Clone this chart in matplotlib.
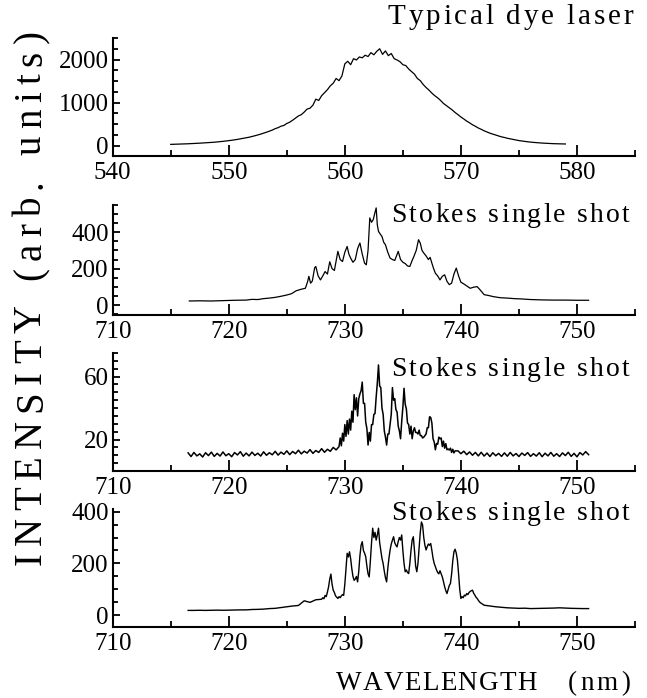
import numpy as np
import matplotlib
matplotlib.use('Agg')
import matplotlib.pyplot as plt
from matplotlib.font_manager import FontProperties, findfont, get_font
from matplotlib.ticker import MultipleLocator, FixedLocator

# ---------------- data ----------------
# Panel 1: typical dye laser, 545 -> 579 nm, step 0.25 nm
dye_start, dye_stop = 545.0, 579.0
dye_vals = [
    30, 32, 33, 35, 38, 40, 44, 47, 52, 55, 58, 62, 66, 70, 75, 80,
    86, 92, 100, 108, 117, 125, 135, 146, 158, 170, 184, 196, 212, 230, 248, 268,
    290, 312, 338, 362, 395, 418, 452, 470, 515, 545, 590, 640, 690, 720, 780, 850,
    870, 940, 1080, 1050, 1160, 1230, 1300, 1390, 1450, 1560, 1510, 1620, 1900, 1960, 1880, 2020,
    1990, 2060, 2040, 2100, 2070, 2160, 2110, 2190, 2250, 2120, 2200, 2090, 2140, 2020, 1990, 1950,
    1880, 1860, 1780, 1720, 1660, 1560, 1510, 1420, 1350, 1290, 1220, 1160, 1110, 1050, 980, 930,
    880, 830, 770, 720, 665, 620, 570, 530, 485, 450, 410, 380, 345, 318, 290, 268,
    245, 225, 205, 190, 172, 158, 142, 130, 118, 108, 98, 90, 82, 76, 70, 65,
    60, 56, 52, 49, 46, 44, 42, 40, 39,
]

# Panel 2: Stokes single shot (a)
s1_nm = [716.6, 717.5, 718.5, 719.5, 720.5, 721.5, 722.0, 722.5, 723.0, 723.5, 724.0, 724.5,
         725.0, 725.4, 725.8, 726.2, 726.6, 726.8, 726.9, 727.05, 727.2, 727.4, 727.5, 727.7,
         727.9, 728.1, 728.3, 728.5, 728.7, 728.9, 729.1, 729.4, 729.6, 729.8, 730.0, 730.2,
         730.35, 730.5, 730.7, 730.9, 731.1, 731.3, 731.5, 731.7, 731.85, 732.0, 732.15, 732.3,
         732.45, 732.6, 732.7, 732.8, 732.9, 733.05, 733.2, 733.35, 733.5, 733.7, 733.9, 734.1,
         734.3, 734.45, 734.6, 734.8, 735.0, 735.2, 735.4, 735.6, 735.8, 735.95, 736.15, 736.35,
         736.5, 736.65, 736.8, 737.0, 737.2, 737.35, 737.5, 737.65, 737.8, 738.0, 738.2, 738.4,
         738.6, 738.8, 739.0, 739.2, 739.4, 739.6, 739.8, 740.0, 740.2, 740.5, 740.8, 741.1,
         741.4, 741.7, 742.0, 742.4, 742.8, 743.4, 744.0, 744.6, 745.3, 746.0, 747.0, 748.0,
         749.0, 750.0, 751.0]
s1_vals = [22, 23, 22, 24, 26, 27, 31, 30, 35, 38, 42, 48,
           55, 62, 78, 86, 92, 130, 158, 120, 132, 205, 212, 160,
           138, 160, 184, 170, 238, 200, 190, 295, 250, 239, 290, 322,
           280, 258, 235, 250, 310, 341, 280, 230, 221, 300, 479, 455,
           470, 510, 534, 440, 405, 390, 377, 345, 331, 290, 258, 250,
           245, 270, 295, 250, 235, 228, 215, 212, 245, 267, 300, 359,
           340, 300, 286, 270, 250, 262, 230, 200, 175, 160, 138, 158,
           166, 130, 112, 120, 170, 203, 160, 125, 118, 105, 92, 98,
           101, 80, 57, 52, 46, 40, 38, 35, 33, 30, 28, 27,
           27, 26, 26]

# Panel 3: Stokes single shot (b) -- three sampled stretches
s2_left = (716.5, 729.25)   # step 0.25
s2_left_vals = [11.5, 9.2, 11.8, 9.6, 10.9, 8.9, 11.6, 9.8, 12.0, 9.3,
                11.2, 9.5, 12.1, 9.7, 11.0, 9.1, 11.7, 10.2, 12.3, 9.4,
                11.4, 9.6, 12.0, 9.9, 11.3, 9.5, 12.2, 10.0, 11.6, 10.3,
                12.5, 10.1, 12.0, 10.6, 12.8, 10.4, 12.4, 11.0, 13.2, 10.9,
                12.6, 11.4, 13.6, 11.2, 13.0, 11.8, 14.2, 11.9, 13.8, 12.5,
                15.0, 13.4]
s2_mid = (729.5, 739.5)     # step 0.1
s2_mid_vals = [15.5, 21.0, 16.0, 24.0, 19.0, 29.5, 22.0, 32.0, 23.5, 33.0,
               26.0, 38.0, 31.0, 48.5, 39.0, 46.5, 35.0, 46.0, 49.0, 51.0,
               56.5, 43.0, 43.0, 31.0, 27.0, 16.5, 24.5, 19.0, 29.5, 29.5,
               36.0, 36.5, 47.0, 56.0, 67.4, 54.0, 53.0, 40.0, 36.0, 25.5,
               21.5, 16.5, 23.5, 23.5, 30.0, 36.0, 53.0, 45.0, 46.0, 39.0,
               37.5, 28.5, 25.5, 20.5, 31.5, 40.5, 52.6, 42.5, 39.5, 30.5,
               29.5, 23.5, 28.5, 20.5, 25.5, 27.5, 24.5, 24.5, 23.5, 26.0,
               22.5, 22.5, 21.0, 21.5, 22.5, 23.5, 27.5, 27.5, 34.5, 34.0,
               30.5, 20.5, 18.5, 13.5, 17.5, 17.0, 21.5, 20.5, 21.0, 15.5,
               19.0, 14.5, 17.4, 13.5, 14.0, 13.3, 14.5, 11.8, 13.8, 11.5,
               12.8]
s2_right = (739.75, 751.0)  # step 0.25
s2_right_vals = [12.8, 11.0, 12.6, 10.4, 12.1, 10.0, 11.8, 9.6, 11.9, 9.5,
                 11.4, 9.2, 11.6, 9.7, 11.2, 9.3, 11.5, 9.4, 11.8, 9.6,
                 11.1, 9.2, 11.4, 9.9, 11.7, 9.3, 11.0, 9.5, 11.6, 9.1,
                 11.3, 9.6, 11.8, 9.4, 11.0, 9.2, 11.5, 9.8, 11.9, 9.3,
                 11.2, 9.0, 11.7, 10.2, 12.3, 10.4]

# Panel 4: Stokes single shot (c)
s3_left = (716.5, 727.5)    # step 0.5
s3_left_vals = [19, 19, 19.5, 19, 19.5, 20, 19.5, 20, 20.5, 21, 21, 22.5,
                23, 24, 26, 27, 30, 33, 36, 38, 56, 50, 60]
s3_mid = (728.0, 742.0)     # step 0.1
s3_mid_vals = [62, 68, 64, 77, 72, 90, 110, 140, 159, 120,
               97, 88, 75, 70, 65, 72, 68, 75, 80, 77,
               120, 180, 239, 225, 245, 219, 180, 150, 135, 140,
               150, 129, 170, 230, 270, 284, 250, 240, 226, 190,
               160, 148, 210, 280, 336, 300, 320, 290, 310, 336,
               280, 250, 219, 200, 170, 145, 129, 180, 220, 252,
               275, 290, 303, 280, 270, 264, 285, 300, 290, 310,
               250, 200, 168, 175, 165, 161, 200, 250, 290, 303,
               250, 190, 168, 200, 260, 320, 360, 348, 300, 270,
               252, 265, 275, 270, 277, 250, 220, 200, 187, 175,
               165, 160, 172, 160, 148, 130, 110, 95, 84, 100,
               115, 123, 160, 210, 245, 255, 240, 213, 160, 100,
               65, 72, 68, 78, 75, 84, 80, 88, 92, 95,
               97, 85, 78, 70, 65, 58, 52, 48, 45, 42,
               39]
s3_right = (742.5, 751.0)   # step 0.5
s3_right_vals = [36, 33, 31, 29, 28, 27, 27.5, 26, 26.5, 27, 27.5, 28, 29, 28, 27, 26.5, 26, 26]

titles = ["Typical dye laser", "Stokes single shot", "Stokes single shot", "Stokes single shot"]
ylabel = "INTENSITY (arb. units)"
xlabel_main, xlabel_unit = "WAVELENGTH", "(nm)"


def seg(rng, vals):
    return np.linspace(rng[0], rng[1], len(vals)), np.asarray(vals, float)


# ---------------- figure ----------------
W, H = 647, 698
DPI = 100
SERIF = 'Liberation Serif'
plt.rcParams['font.family'] = [SERIF, 'DejaVu Serif']
fig = plt.figure(figsize=(W / DPI, H / DPI), dpi=DPI)


def px_axes(left, top, right, bottom):
    return fig.add_axes([left / W, 1 - bottom / H, (right - left) / W, (bottom - top) / H])


def advances(s, size_pt):
    font = get_font(findfont(FontProperties(family=SERIF)))
    font.set_size(size_pt, DPI)
    return [font.load_char(ord(c)).linearHoriAdvance / 65536 for c in s]


def tracked(x, y, s, size_pt, track, align='left', vertical=False):
    """Draw text with extra letter spacing. Pixel coords (y down).
    Horizontal: baseline at y, run along x. Vertical: baseline at x, run upward from y."""
    adv = advances(s, size_pt)
    total = sum(adv) + track * (len(s) - 1)
    if align == 'right':
        start = (y + total) if vertical else (x - total)
    elif align == 'center':
        start = (y + total / 2) if vertical else (x - total / 2)
    else:
        start = y if vertical else x
    pos = start
    for c, a in zip(s, adv):
        if c != ' ':
            if vertical:
                fig.text(x / W, 1 - pos / H, c, fontsize=size_pt, rotation=90,
                         rotation_mode='anchor', ha='left', va='baseline', family=SERIF)
            else:
                fig.text(pos / W, 1 - y / H, c, fontsize=size_pt,
                         ha='left', va='baseline', family=SERIF)
        pos = pos - (a + track) if vertical else pos + (a + track)


def style(ax, xlim, ylim, ymajor, yminor_step):
    ax.set_xlim(*xlim)
    ax.set_ylim(*ylim)
    for s in ['top', 'right']:
        ax.spines[s].set_visible(False)
    for s in ['left', 'bottom']:
        ax.spines[s].set_linewidth(1.5)
    ax.xaxis.set_major_locator(MultipleLocator(10))
    ax.xaxis.set_minor_locator(MultipleLocator(5))
    ax.yaxis.set_major_locator(FixedLocator(ymajor))
    ax.yaxis.set_minor_locator(MultipleLocator(yminor_step))
    ax.tick_params(axis='x', which='major', direction='in', length=8, width=1.3,
                   labelsize=18, pad=4)
    ax.tick_params(axis='x', which='minor', direction='in', length=4.5, width=1.3)
    ax.tick_params(axis='y', which='major', direction='in', length=5, width=1.3,
                   labelsize=18, pad=3)
    ax.tick_params(axis='y', which='minor', direction='in', length=3.5, width=1.3)
    ax.patch.set_alpha(0)


L, R = 112.7, 635.0
ax1 = px_axes(L, 38, R, 156)
ax2 = px_axes(L, 205, R, 315)
ax3 = px_axes(L, 353, R, 471)
ax4 = px_axes(L, 509, R, 627)

lw = 0.9
ax1.plot(np.linspace(dye_start, dye_stop, len(dye_vals)), dye_vals, color='black', lw=lw)
style(ax1, (540, 585), (-240, 2500), [0, 1000, 2000], 250)

ax2.plot(s1_nm, s1_vals, color='black', lw=lw)
style(ax2, (710, 755), (-55, 550), [0, 200, 400], 50)

x3 = np.concatenate([seg(s2_left, s2_left_vals)[0], seg(s2_mid, s2_mid_vals)[0], seg(s2_right, s2_right_vals)[0]])
y3 = np.concatenate([seg(s2_left, s2_left_vals)[1], seg(s2_mid, s2_mid_vals)[1], seg(s2_right, s2_right_vals)[1]])
ax3.plot(x3, y3, color='black', lw=1.1)
style(ax3, (710, 755), (0, 75), [20, 60], 5)

x4 = np.concatenate([seg(s3_left, s3_left_vals)[0], seg(s3_mid, s3_mid_vals)[0], seg(s3_right, s3_right_vals)[0]])
y4 = np.concatenate([seg(s3_left, s3_left_vals)[1], seg(s3_mid, s3_mid_vals)[1], seg(s3_right, s3_right_vals)[1]])
ax4.plot(x4, y4, color='black', lw=1.0)
style(ax4, (710, 755), (-45, 410), [0, 200, 400], 50)

# titles (right aligned)
tracked(633, 23.5, titles[0], 21, 2.8, align='right')
tracked(630, 221.5, titles[1], 20, 2.25, align='right')
tracked(630, 376.5, titles[2], 20, 2.25, align='right')
tracked(630, 520, titles[3], 20, 2.25, align='right')

# axis labels
tracked(41, 565, ylabel, 28, 7.2, vertical=True)
tracked(336, 690, xlabel_main, 19.5, 1.2)
tracked(568, 690, xlabel_unit, 19.5, 3.0)

fig.savefig('out.png', dpi=DPI)
